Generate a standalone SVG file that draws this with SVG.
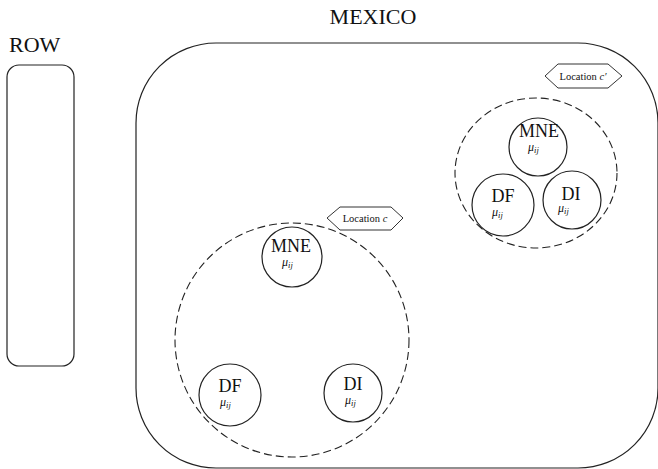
<svg xmlns="http://www.w3.org/2000/svg" width="658" height="469" viewBox="0 0 658 469">
  <style>
    .box { fill: none; stroke: #222; stroke-width: 1.2; }
    .loc { fill: none; stroke: #222; stroke-width: 1.1; stroke-dasharray: 8 4; }
    .node { fill: #fff; stroke: #222; stroke-width: 1.2; }
    .tag { fill: #fff; stroke: #333; stroke-width: 1; }
    .title { font-family: "Liberation Serif", "Times New Roman", serif; font-size: 22px; fill: #111; }
    .name { font-family: "Liberation Serif", "Times New Roman", serif; font-size: 18px; fill: #111; }
    .mu { font-family: "Liberation Serif", "Times New Roman", serif; font-size: 12px; font-style: italic; fill: #111; }
    .sub { font-size: 8.5px; }
    .tagtext { font-family: "Liberation Serif", "Times New Roman", serif; font-size: 10.5px; fill: #111; }
  </style>

  <!-- Regions -->
  <g id="row">
    <text class="title" x="9" y="52">ROW</text>
    <rect class="box" x="7" y="65" width="67" height="301" rx="12" ry="12"/>
  </g>

  <g id="mexico">
    <text class="title" x="373" y="24" text-anchor="middle">MEXICO</text>
    <rect class="box" x="136" y="43" width="522" height="425" rx="80" ry="80"/>
  </g>

  <!-- Location c -->
  <g id="location-c">
    <ellipse class="loc" cx="292" cy="340" rx="117" ry="117"/>
    <polygon class="tag" points="327,218 340,207 391,207 403,218 391,230 340,230"/>
    <text class="tagtext" x="365" y="222" text-anchor="middle">Location <tspan font-style="italic">c</tspan></text>
  </g>

  <g id="c-mne">
    <circle class="node" cx="292" cy="257" r="30"/>
    <text class="name" x="291" y="252" text-anchor="middle">MNE</text>
    <text class="mu" x="282" y="266">μ<tspan class="sub" dy="2">ij</tspan></text>
  </g>
  <g id="c-df">
    <circle class="node" cx="230" cy="395" r="31"/>
    <text class="name" x="230" y="392" text-anchor="middle">DF</text>
    <text class="mu" x="220" y="406">μ<tspan class="sub" dy="2">ij</tspan></text>
  </g>
  <g id="c-di">
    <circle class="node" cx="353" cy="393" r="29"/>
    <text class="name" x="353" y="390" text-anchor="middle">DI</text>
    <text class="mu" x="345" y="404">μ<tspan class="sub" dy="2">ij</tspan></text>
  </g>

  <!-- Location c' -->
  <g id="location-c-prime">
    <ellipse class="loc" cx="536" cy="173" rx="81" ry="75"/>
    <polygon class="tag" points="545,76 558,64 608,64 622,76 608,88 558,88"/>
    <text class="tagtext" x="583" y="80" text-anchor="middle">Location <tspan font-style="italic">c′</tspan></text>
  </g>

  <g id="cp-mne">
    <circle class="node" cx="538" cy="147" r="29"/>
    <text class="name" x="539" y="137" text-anchor="middle">MNE</text>
    <text class="mu" x="528" y="151">μ<tspan class="sub" dy="2">ij</tspan></text>
  </g>
  <g id="cp-df">
    <circle class="node" cx="503" cy="205" r="31"/>
    <text class="name" x="503" y="202" text-anchor="middle">DF</text>
    <text class="mu" x="492" y="216">μ<tspan class="sub" dy="2">ij</tspan></text>
  </g>
  <g id="cp-di">
    <circle class="node" cx="572" cy="200" r="29"/>
    <text class="name" x="571" y="200" text-anchor="middle">DI</text>
    <text class="mu" x="558" y="212">μ<tspan class="sub" dy="2">ij</tspan></text>
  </g>

  <g id="connectors"></g>
</svg>
